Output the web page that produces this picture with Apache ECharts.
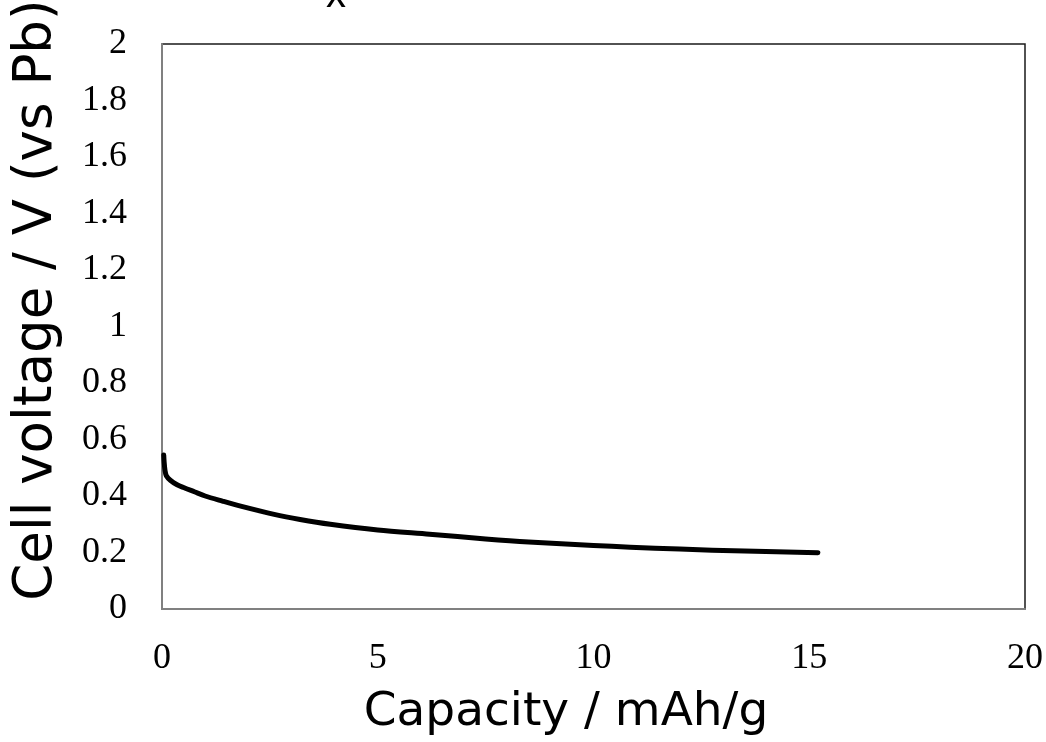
<!DOCTYPE html>
<html>
<head>
<meta charset="utf-8">
<script src="https://cdn.jsdelivr.net/npm/echarts@6/dist/echarts.min.js"></script>
<style>
html,body{margin:0;padding:0;background:#fff;}
#chart{width:1046px;height:742px;}
</style>
</head>
<body>
<div id="chart"></div>
<script>
const capacity = [0.04, 0.05, 0.07, 0.1, 0.2, 0.35, 0.5, 0.75, 1.0, 1.4, 1.8, 2.6, 3.2, 3.9, 5.0, 6.2, 7.5, 8.5, 10.0, 10.85, 12.0, 13.5, 15.2];
const voltage  = [0.545, 0.52, 0.49, 0.472, 0.455, 0.44, 0.43, 0.415, 0.40, 0.382, 0.365, 0.335, 0.317, 0.30, 0.28, 0.265, 0.248, 0.237, 0.225, 0.219, 0.212, 0.205, 0.199];
const xTitle = 'Capacity / mAh/g';
const yTitle = 'Cell voltage / V (vs Pb)';
const topText = 'x';

const chart = echarts.init(document.getElementById('chart'));
chart.setOption({
  animation: false,
  backgroundColor: '#fff',
  grid: {left: 162, right: 21, top: 44, bottom: 133, show: true, borderColor: '#1a1a1a', borderWidth: 1.5,
    containLabel: false, outerBoundsMode: 'none'},
  xAxis: {
    type: 'value', min: 0, max: 20, interval: 5,
    axisLine: {show: true, onZero: false, lineStyle: {color: '#808080', width: 2}},
    axisTick: {show: false}, splitLine: {show: false},
    axisLabel: {fontFamily: 'Liberation Serif', fontSize: 36, color: '#000', margin: 32}
  },
  yAxis: {
    type: 'value', min: 0, max: 2, interval: 0.2,
    axisLine: {show: true, lineStyle: {color: '#808080', width: 2}},
    axisTick: {show: false}, splitLine: {show: false},
    axisLabel: {fontFamily: 'Liberation Serif', fontSize: 36, color: '#000', margin: 35,
      formatter: v => String(Math.round(v*10)/10)}
  },
  graphic: [
    {type: 'text', left: 326, top: -24, style: {text: topText, font: '40px "Liberation Sans"', fill: '#000'}},
    {type: 'text', x: 566, y: 713, style: {text: xTitle, font: '47px "DejaVu Sans"', fill: '#000', align: 'center', verticalAlign: 'middle'}},
    {type: 'text', x: 37, y: 300, rotation: Math.PI / 2, style: {text: yTitle, font: '53px "DejaVu Sans"', fill: '#000', align: 'center', verticalAlign: 'middle'}}
  ],
  series: [{
    type: 'line', data: capacity.map((c, i) => [c, voltage[i]]),
    showSymbol: false, smooth: 0.3,
    lineStyle: {color: '#000', width: 5, cap: 'round', join: 'round'}
  }]
});
</script>
</body>
</html>
